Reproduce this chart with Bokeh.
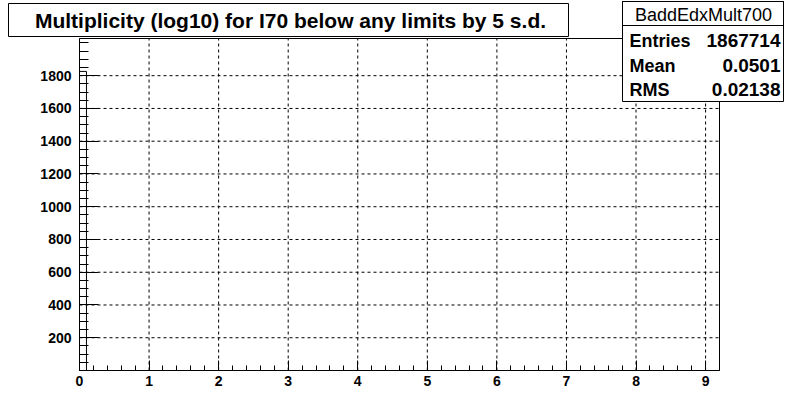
from bokeh.plotting import figure
from bokeh.models import FixedTicker, Label, BoxAnnotation, Range1d
from bokeh.embed import file_html
from bokeh.resources import INLINE

# ---------------- data ----------------
title_text = "Multiplicity (log10) for I70 below any limits by 5 s.d."
stats_name = "BaddEdxMult700"
stats_labels = ["Entries", "Mean", "RMS"]
stats_values = ["1867714", "0.0501", "0.02138"]

bin_left = [0.0]
bin_right = [0.1]
bin_counts = [1826000]          # entries in the only visible bin

x_major = [0, 1, 2, 3, 4, 5, 6, 7, 8, 9]
y_major = [200, 400, 600, 800, 1000, 1200, 1400, 1600, 1800]   # in units of 10^3
x_lo, x_hi = 0.0, 9.2
y_lo, y_hi = 0.0, 2027.0
y_scale = 1000.0

# ---------------- layout (pixels) ----------------
W, H = 799, 412
PX0, PX1 = 79, 719      # histogram frame left / right
PY0, PY1 = 370, 38      # histogram frame bottom / top


def dx(ix):
    return x_lo + (ix - PX0) / (PX1 - PX0) * (x_hi - x_lo)


def dy(iy):
    return y_lo + (PY0 - iy) / (PY0 - PY1) * (y_hi - y_lo)


p = figure(width=W, height=H, x_range=Range1d(dx(0), dx(W)), y_range=Range1d(dy(H), dy(0)),
           output_backend="svg", toolbar_location=None,
           min_border=0, min_border_left=0, min_border_right=0,
           min_border_top=0, min_border_bottom=0,
           background_fill_color="white", border_fill_color="white")
p.outline_line_color = None
p.xgrid.visible = False
p.ygrid.visible = False

p.xaxis.fixed_location = y_lo
p.yaxis.fixed_location = x_lo
p.xaxis.bounds = (x_lo, x_hi)
p.yaxis.bounds = (y_lo, y_hi)
p.xaxis.ticker = FixedTicker(ticks=x_major, minor_ticks=[round(0.2 * i, 1) for i in range(47)])
p.yaxis.ticker = FixedTicker(ticks=y_major, minor_ticks=[50 * i for i in range(41)])

for ax, tin in ((p.xaxis, 10), (p.yaxis, 19)):
    ax.major_tick_in = tin
    ax.major_tick_out = 0
    ax.minor_tick_in = tin // 2
    ax.minor_tick_out = 0
    ax.axis_line_color = "black"
    ax.major_tick_line_color = "black"
    ax.minor_tick_line_color = "black"
    ax.major_label_text_font = "Liberation Sans"
    ax.major_label_text_font_style = "bold"
    ax.major_label_text_font_size = "14px"
    ax.major_label_text_color = "black"
p.xaxis.major_label_standoff = 5
p.yaxis.major_label_standoff = 8

# dashed grid at the major ticks, inside the histogram frame
gx = [t for t in x_major if t > x_lo]
p.segment(x0=gx, x1=gx, y0=[y_lo] * len(gx), y1=[y_hi] * len(gx),
          line_color="black", line_dash="3 3", line_width=1)
p.segment(x0=[x_lo] * len(y_major), x1=[x_hi] * len(y_major), y0=y_major, y1=y_major,
          line_color="black", line_dash="3 3", line_width=1)

# histogram frame
p.add_layout(BoxAnnotation(left=x_lo, right=x_hi, bottom=y_lo, top=y_hi, fill_alpha=0,
                           line_color="black", line_width=1, line_alpha=1, level="underlay"))

p.quad(left=bin_left, right=bin_right, bottom=[y_lo] * len(bin_counts),
       top=[c / y_scale for c in bin_counts],
       fill_alpha=0, line_color="black", line_width=1)

# exponent label (mostly hidden under the title box)
p.add_layout(Label(x=dx(80), y=dy(39), text="×10³", text_font="Liberation Sans",
                   text_font_size="12px", text_font_style="bold", text_baseline="bottom",
                   text_align="left"))

# title box
p.add_layout(BoxAnnotation(left=dx(8), right=dx(568), top=dy(3), bottom=dy(36),
                           fill_color="white", fill_alpha=1, line_color="black",
                           line_width=1, line_alpha=1))
p.add_layout(Label(x=dx(290), y=dy(20), text=title_text, text_align="center",
                   text_baseline="middle", text_font="Liberation Sans",
                   text_font_style="bold", text_font_size="21px", text_color="black"))

# stats box
p.add_layout(BoxAnnotation(left=dx(622), right=dx(783), top=dy(1), bottom=dy(101),
                           fill_color="white", fill_alpha=1, line_color="black",
                           line_width=1, line_alpha=1))
p.add_layout(BoxAnnotation(left=dx(622), right=dx(783), top=dy(1), bottom=dy(25),
                           fill_alpha=0, line_color="black", line_width=1, line_alpha=1))
p.add_layout(Label(x=dx(703), y=dy(14), text=stats_name, text_align="center",
                   text_baseline="middle", text_font="Liberation Sans",
                   text_font_size="18px", text_color="black"))
row_y = [40, 65, 89]
for lab, val, ry in zip(stats_labels, stats_values, row_y):
    p.add_layout(Label(x=dx(629), y=dy(ry), text=lab, text_align="left",
                       text_baseline="middle", text_font="Liberation Sans",
                       text_font_style="bold", text_font_size="18px", text_color="black"))
    p.add_layout(Label(x=dx(780), y=dy(ry), text=val, text_align="right",
                       text_baseline="middle", text_font="Liberation Sans",
                       text_font_style="bold", text_font_size="19px", text_color="black"))

open("out.html", "w").write(file_html(p, INLINE))
